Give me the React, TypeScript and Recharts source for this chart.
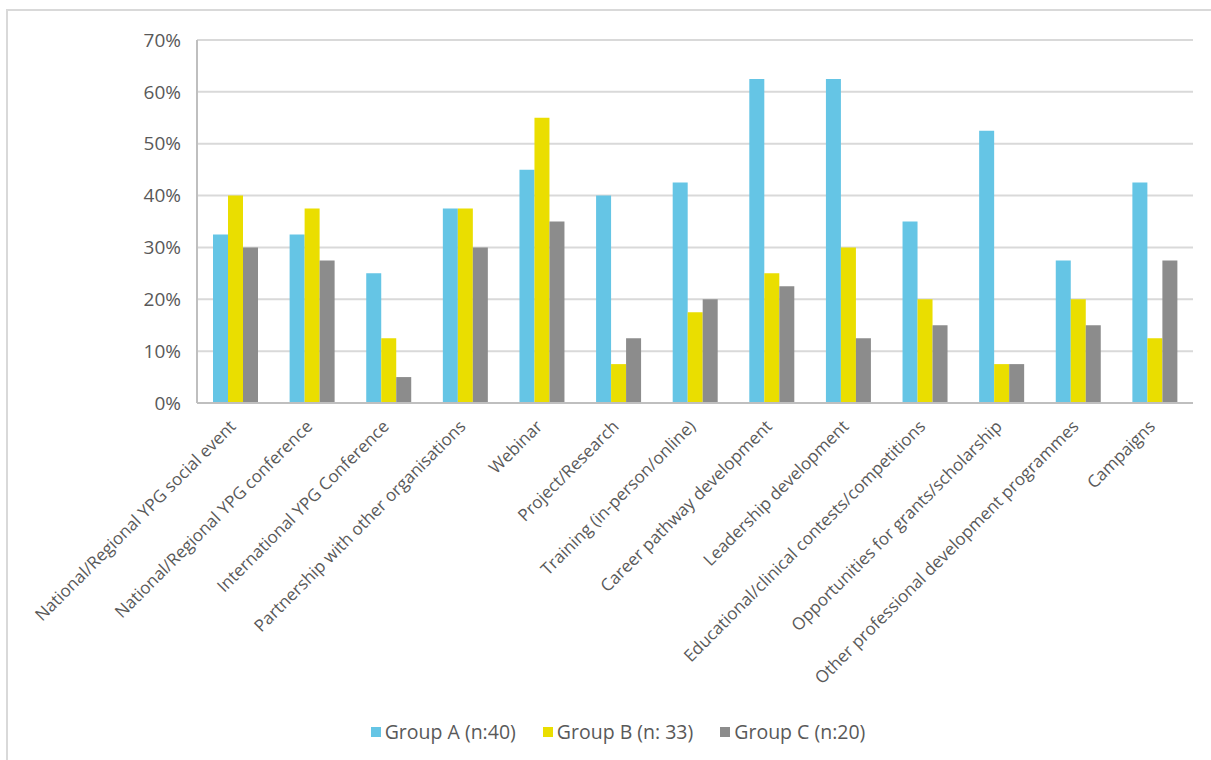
import React from "react";
import { BarChart, Bar, XAxis, YAxis, CartesianGrid, Legend } from "recharts";

const categories = [
  "National/Regional YPG social event",
  "National/Regional YPG conference",
  "International YPG Conference",
  "Partnership with other organisations",
  "Webinar",
  "Project/Research",
  "Training (in-person/online)",
  "Career pathway development",
  "Leadership development",
  "Educational/clinical contests/competitions",
  "Opportunities for grants/scholarship",
  "Other professional development programmes",
  "Campaigns",
];
const groupA = [32.5, 32.5, 25, 37.5, 45, 40, 42.5, 62.5, 62.5, 35, 52.5, 27.5, 42.5];
const groupB = [40, 37.5, 12.5, 37.5, 55, 7.5, 17.5, 25, 30, 20, 7.5, 20, 12.5];
const groupC = [30, 27.5, 5, 30, 35, 12.5, 20, 22.5, 12.5, 15, 7.5, 15, 27.5];
const seriesNames = ["Group A (n:40)", "Group B (n: 33)", "Group C (n:20)"];
const yTicks = [0, 10, 20, 30, 40, 50, 60, 70];

const data = categories.map((c, i) => ({ name: c, a: groupA[i], b: groupB[i], c: groupC[i] }));

const FONT = "'Open Sans', sans-serif";
const TXT = "#595959";

const XTick = (props: any) => {
  const { x, y, payload } = props;
  return (
    <g transform={`translate(${x - 2},${y + 13})`}>
      <text transform="rotate(-45)" textAnchor="end" fill={TXT} fontSize={17} fontFamily={FONT} dy={5}>
        {payload.value}
      </text>
    </g>
  );
};

const LegendContent = (props: any) => {
  const { payload } = props;
  return (
    <div style={{ display: "flex", justifyContent: "center", paddingTop: 5, paddingRight: 94, fontFamily: FONT, fontSize: 19.5, color: TXT }}>
      {(payload || []).map((p: any, i: number) => (
        <div key={i} style={{ display: "flex", alignItems: "center", marginRight: i < 2 ? 27 : 0 }}>
          <span style={{ display: "inline-block", width: 10, height: 10, background: p.color, marginRight: 4 }} />
          <span>{p.value}</span>
        </div>
      ))}
    </div>
  );
};

export default function App() {
  return (
    <div style={{ position: "absolute", left: 0, top: 0, width: 1211, height: 760, overflow: "hidden", background: "#fff" }}>
      <div style={{ position: "absolute", left: 6, top: 9, width: 1300, height: 900, border: "2px solid #D9D9D9" }} />
      <div style={{ position: "absolute", left: 0, top: 0 }}>
        <BarChart
          width={1211}
          height={760}
          data={data}
          margin={{ top: 40, right: 18, left: 137, bottom: 0 }}
          barGap={0}
          barSize={15}
        >
          <CartesianGrid vertical={false} stroke="#D9D9D9" strokeWidth={2} />
          <XAxis
            dataKey="name"
            interval={0}
            tick={<XTick />}
            tickLine={false}
            axisLine={{ stroke: "#BFBFBF", strokeWidth: 2 }}
            height={310}
          />
          <YAxis
            domain={[0, 70]}
            ticks={yTicks}
            tickFormatter={(v: number) => `${v}%`}
            tick={{ fill: TXT, fontSize: 19, fontFamily: FONT, dx: -8 }}
            tickLine={false}
            axisLine={{ stroke: "#BFBFBF", strokeWidth: 2 }}
            width={60}
            interval={0}
          />
          <Legend height={47} content={<LegendContent />} />
          <Bar dataKey="a" name={seriesNames[0]} fill="#65C5E5" isAnimationActive={false} />
          <Bar dataKey="b" name={seriesNames[1]} fill="#EADE00" isAnimationActive={false} />
          <Bar dataKey="c" name={seriesNames[2]} fill="#8C8C8C" isAnimationActive={false} />
        </BarChart>
      </div>
    </div>
  );
}
